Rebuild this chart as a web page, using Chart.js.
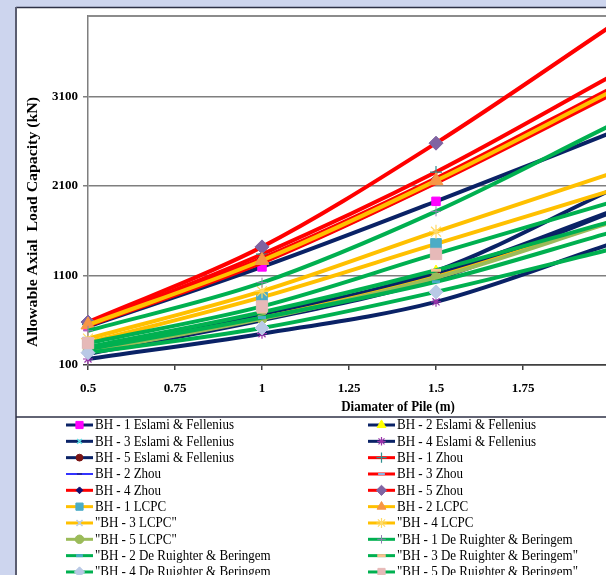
<!DOCTYPE html>
<html>
<head>
<meta charset="utf-8">
<script src="https://cdn.jsdelivr.net/npm/chart.js@4/dist/chart.umd.min.js"></script>
<style>
  html, body { margin: 0; padding: 0; width: 606px; height: 575px; overflow: hidden; background: #cdd5ee; }
  #wrap { position: absolute; left: 0; top: 0; width: 640px; height: 575px; }
</style>
</head>
<body>
<div id="wrap"><canvas id="pileChart" width="640" height="575"></canvas></div>
<script>
// Pile diameters (m) at which each method was evaluated
const diameters = [0.5, 1, 1.5, 2];
const xTickValues = [0.5, 0.75, 1, 1.25, 1.5, 1.75, 2];
const yTickValues = [100, 1100, 2100, 3100];

// Allowable axial load capacity (kN) per borehole and method
const eslamiBH1 = [530, 1196, 1929, 2690];
const eslamiBH2 = [265, 660, 1150, 2050];
const eslamiBH3 = [225, 600, 1060, 1800];
const eslamiBH4 = [167, 450, 806, 1450];
const eslamiBH5 = [250, 640, 1110, 1810];
const zhouBH1 = [555, 1338, 2256, 3320];
const zhouBH2 = [535, 1240, 2130, 3120];
const zhouBH3 = [538, 1243, 2135, 3115];
const zhouBH4 = [560, 1292, 2185, 3185];
const zhouBH5 = [580, 1420, 2579, 3880];
const lcpcBH1 = [350, 858, 1453, 2045];
const lcpcBH2 = [548, 1268, 2160, 3150];
const lcpcBH3 = [258, 625, 1085, 1700];
const lcpcBH4 = [395, 925, 1590, 2235];
const lcpcBH5 = [252, 615, 1075, 1690];
const ruighterBH1 = [483, 1020, 1817, 2775];
const ruighterBH2 = [275, 630, 1030, 1580];
const ruighterBH3 = [300, 690, 1159, 1700];
const ruighterBH4 = [237, 513, 917, 1390];
const ruighterBH5 = [345, 755, 1341, 1915];

const seriesLabels = [
  'BH - 1 Eslami & Fellenius', 'BH - 2 Eslami & Fellenius',
  'BH - 3 Eslami & Fellenius', 'BH - 4 Eslami & Fellenius',
  'BH - 5 Eslami & Fellenius', 'BH - 1 Zhou',
  'BH - 2 Zhou', 'BH - 3 Zhou',
  'BH - 4 Zhou', 'BH - 5 Zhou',
  'BH - 1 LCPC', 'BH - 2 LCPC',
  '"BH - 3 LCPC"', '"BH - 4 LCPC',
  '"BH - 5 LCPC"', '"BH - 1 De Ruighter & Beringem',
  '"BH - 2 De Ruighter & Beringem', '"BH - 3 De Ruighter & Beringem"',
  '"BH - 4 De Ruighter & Beringem', '"BH - 5 De Ruighter & Beringem"'
];

const seriesValues = [
  eslamiBH1, eslamiBH2, eslamiBH3, eslamiBH4, eslamiBH5,
  zhouBH1, zhouBH2, zhouBH3, zhouBH4, zhouBH5,
  lcpcBH1, lcpcBH2, lcpcBH3, lcpcBH4, lcpcBH5,
  ruighterBH1, ruighterBH2, ruighterBH3, ruighterBH4, ruighterBH5
];

// Line and marker appearance
const NAVY = '#0a2266', RED = '#ff0000', AMBER = '#ffc000', GREEN = '#00b050';
const seriesStyles = [
  { line: NAVY,  shape: 'rect',     fill: '#ff00ff', size: 6 },
  { line: NAVY,  shape: 'triangle', fill: '#ffff00', size: 6 },
  { line: NAVY,  shape: 'crossRot', fill: '#5fe0e6', size: 4, edgeWidth: 1.5 },
  { line: NAVY,  shape: 'star',     fill: '#9933aa', size: 5, edgeWidth: 1.2 },
  { line: NAVY,  shape: 'circle',   fill: '#7a1414', size: 4 },
  { line: RED,   shape: 'cross',    fill: '#2f8f8f', size: 6, edgeWidth: 1.2 },
  { line: '#3333ff', shape: 'line', fill: '#1a1a55', size: 3, width: 2, legendWidth: 2 },
  { line: RED,   shape: 'line',     fill: '#8db3e2', size: 4, edgeWidth: 2 },
  { line: RED,   shape: 'rectRot',  fill: '#101070', size: 4 },
  { line: RED,   shape: 'rectRot',  fill: '#8064a2', size: 7 },
  { line: AMBER, shape: 'rect',     fill: '#4bacc6', size: 7.5 },
  { line: AMBER, shape: 'triangle', fill: '#f79646', size: 8 },
  { line: AMBER, shape: 'crossRot', fill: '#b9cde5', size: 5, edgeWidth: 1.5 },
  { line: AMBER, shape: 'star',     fill: '#ffd966', size: 7, edgeWidth: 1.2 },
  { line: '#9bbb59', shape: 'circle', fill: '#9bbb59', size: 5 },
  { line: GREEN, shape: 'cross',    fill: '#8f7fb0', size: 5, edgeWidth: 1 },
  { line: GREEN, shape: 'line',     fill: '#4bacc6', size: 4, edgeWidth: 3 },
  { line: GREEN, shape: 'line',     fill: '#fabf8f', size: 5, edgeWidth: 3 },
  { line: GREEN, shape: 'rectRot',  fill: '#b9c9e6', size: 7 },
  { line: GREEN, shape: 'rect',     fill: '#e6b9b8', size: 8 }
];

const datasets = seriesValues.map((vals, i) => {
  const st = seriesStyles[i];
  return {
    label: seriesLabels[i],
    data: diameters.map((d, k) => ({ x: d, y: vals[k] })),
    borderColor: st.line,
    borderWidth: st.width || 4,
    pointStyle: st.shape,
    pointBackgroundColor: st.fill,
    pointBorderColor: st.fill,
    pointBorderWidth: st.edgeWidth || 1,
    pointRadius: diameters.map(d => (d > 1.5 ? 0 : st.size)),
    pointHoverRadius: 0,
    cubicInterpolationMode: 'monotone',
    fill: false,
    clip: { left: 12, top: 2, right: 2, bottom: 12 },
    order: seriesValues.length - 1 - i
  };
});

const serif = '"Liberation Serif", "Times New Roman", serif';

// Slide-style frame behind the chart
const framePlugin = {
  id: 'frame',
  beforeDraw(chart) {
    const ctx = chart.ctx, w = chart.width, h = chart.height;
    ctx.save();
    ctx.fillStyle = '#cdd5ee';
    ctx.fillRect(0, 0, w, h);
    ctx.fillStyle = '#ffffff';
    ctx.fillRect(16, 7, w - 16, h - 7);
    ctx.strokeStyle = '#2e3146';
    ctx.lineWidth = 1.5;
    ctx.beginPath();
    ctx.moveTo(16, 7.5); ctx.lineTo(w, 7.5);
    ctx.stroke();
    ctx.strokeStyle = '#5a5d70';
    ctx.lineWidth = 2;
    ctx.beginPath();
    ctx.moveTo(16, 7); ctx.lineTo(16, h);
    ctx.stroke();
    ctx.restore();
  },
  beforeDatasetsDraw(chart) {
    const ctx = chart.ctx, a = chart.chartArea;
    ctx.save();
    ctx.strokeStyle = '#8c8c8c';
    ctx.lineWidth = 2;
    ctx.beginPath();
    ctx.moveTo(a.left, a.top); ctx.lineTo(a.right, a.top);
    ctx.stroke();
    ctx.restore();
  }
};

function fitText(ctx, text, x, y, targetWidth, stretchY) {
  const w = ctx.measureText(text).width;
  ctx.save();
  ctx.translate(x, y);
  ctx.scale(targetWidth ? targetWidth / w : 1, stretchY || 1);
  ctx.fillText(text, 0, 0);
  ctx.restore();
}

// Axis titles and the two-column legend box
const annotatePlugin = {
  id: 'annotate',
  afterDraw(chart) {
    const ctx = chart.ctx;
    ctx.save();
    ctx.fillStyle = '#000000';
    ctx.textBaseline = 'middle';
    ctx.textAlign = 'center';

    ctx.font = 'bold 13px ' + serif;
    fitText(ctx, 'Diamater of Pile (m)', 398, 407, 0, 1.15);

    ctx.save();
    ctx.translate(33, 222);
    ctx.rotate(-Math.PI / 2);
    ctx.font = 'bold 14px ' + serif;
    fitText(ctx, 'Allowable Axial  Load Capacity (kN)', 0, 0, 250, 1.0);
    ctx.restore();

    // legend box
    ctx.strokeStyle = '#2e3146';
    ctx.lineWidth = 1.5;
    ctx.beginPath();
    ctx.moveTo(16, 417); ctx.lineTo(chart.width, 417);
    ctx.stroke();

    ctx.textAlign = 'left';
    ctx.font = '13px ' + serif;
    const drawPoint = Chart.helpers && Chart.helpers.drawPoint;
    chart.data.datasets.forEach((ds, i) => {
      const st = seriesStyles[i];
      const col = i % 2, row = Math.floor(i / 2);
      const x0 = col ? 368 : 66;
      const y = 425 + row * 16.33;
      ctx.strokeStyle = ds.borderColor;
      ctx.lineWidth = st.legendWidth || 3;
      ctx.beginPath();
      ctx.moveTo(x0, y); ctx.lineTo(x0 + 27, y);
      ctx.stroke();
      if (drawPoint) {
        ctx.fillStyle = st.fill;
        ctx.strokeStyle = st.fill;
        ctx.lineWidth = st.edgeWidth || 1;
        drawPoint(ctx, { pointStyle: st.shape, radius: Math.min(st.size, 6) * 0.85, rotation: 0, borderWidth: st.edgeWidth || 1 }, x0 + 13.5, y);
      }
      ctx.fillStyle = '#000000';
      fitText(ctx, ds.label, x0 + 29, y + 0.5, 0, 1.15);
    });
    ctx.restore();
  }
};

const tickFont = { family: serif, size: 13, weight: 'bold' };

new Chart(document.getElementById('pileChart'), {
  type: 'line',
  data: { datasets },
  options: {
    responsive: false,
    animation: false,
    devicePixelRatio: 1,
    events: [],
    layout: { padding: { left: 0, top: 16, right: 30, bottom: 0 } },
    plugins: { legend: { display: false }, tooltip: { enabled: false } },
    scales: {
      x: {
        type: 'linear',
        min: 0.5,
        max: 2,
        afterBuildTicks: s => { s.ticks = xTickValues.map(v => ({ value: v })); },
        afterFit: s => { s.height = 210; },
        grid: { drawOnChartArea: false, drawTicks: true, tickLength: 5, color: '#404040', lineWidth: 1.5 },
        border: { color: '#404040', width: 1.5 },
        ticks: { color: '#000', font: tickFont, padding: 11, maxRotation: 0, autoSkip: false, callback: v => String(v) }
      },
      y: {
        type: 'linear',
        min: 100,
        max: 4000,
        afterBuildTicks: s => { s.ticks = yTickValues.map(v => ({ value: v })); },
        afterFit: s => { s.width = 88; },
        grid: {
          color: c => (c.tick && c.tick.value === 100 ? '#404040' : '#7f7f7f'),
          lineWidth: 1.5,
          tickLength: 5
        },
        border: { color: '#7f7f7f', width: 1.5 },
        ticks: { color: '#000', font: tickFont, padding: 5, callback: v => String(v) }
      }
    }
  },
  plugins: [framePlugin, annotatePlugin]
});
</script>
</body>
</html>
